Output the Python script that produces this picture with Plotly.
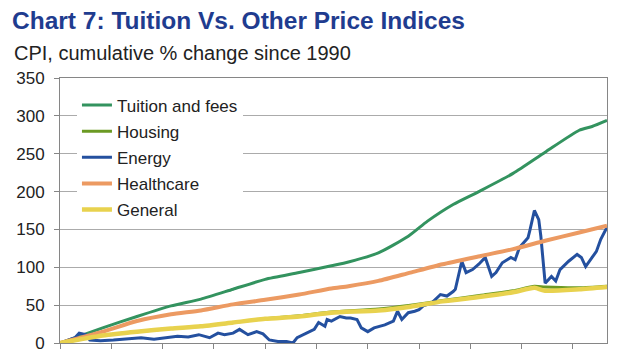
import plotly.graph_objects as go

# ---------------- data ----------------
tuition_dates = ["1990-01-01", "1991-09-01", "1993-01-01", "1994-05-01", "1995-07-01", "1996-10-01",
                 "1998-01-01", "1999-05-01", "2000-08-01", "2001-04-01", "2002-06-01", "2003-08-01",
                 "2004-05-01", "2005-05-01", "2006-05-01", "2007-09-01", "2008-12-01", "2010-04-01",
                 "2010-10-01", "2011-05-01"]
tuition_vals = [0, 20, 35, 49, 58, 71, 84, 93, 102, 107, 119, 141, 161, 183, 200, 224, 252, 281, 286, 294]

smooth_dates = ["1990-01-01", "1991-09-01", "1993-01-01", "1994-05-01", "1995-07-01", "1996-10-01",
                "1998-01-01", "1999-05-01", "2000-08-01", "2002-06-01", "2003-09-01", "2004-12-01",
                "2006-06-01", "2007-09-01", "2008-07-01", "2008-12-01", "2010-04-01", "2011-05-01"]
housing_vals = [0, 10, 15, 19, 22, 27, 32, 36, 41, 45, 50, 56, 63, 69, 75, 74, 73, 75]
general_vals = [0, 10, 15, 19, 22, 27, 32, 35, 40, 43, 48, 55, 61, 67, 73, 69, 71, 74]

health_dates = ["1990-01-01", "1991-09-01", "1993-01-01", "1994-05-01", "1995-07-01", "1996-10-01",
                "1998-01-01", "1999-05-01", "2000-08-01", "2001-04-01", "2002-06-01", "2003-09-01",
                "2004-12-01", "2006-06-01", "2007-09-01", "2008-12-01", "2010-04-01", "2011-05-01"]
health_vals = [0, 15, 29, 38, 43, 51, 57, 64, 72, 75, 82, 93, 104, 115, 124, 135, 146, 155]

energy_dates = ["1990-01-01", "1990-08-01", "1990-10-01", "1991-01-01", "1991-03-01", "1991-08-01",
                "1992-02-01", "1992-08-01", "1993-03-01", "1993-09-01", "1994-03-01", "1994-08-01",
                "1995-01-01", "1995-06-01", "1995-11-01", "1996-03-01", "1996-06-01", "1996-10-01",
                "1997-01-01", "1997-05-01", "1997-09-01", "1997-12-01", "1998-03-01", "1998-07-01",
                "1998-11-01", "1999-02-01", "1999-04-01", "1999-08-01", "1999-12-01", "2000-02-01",
                "2000-05-01", "2000-06-01", "2000-08-01", "2000-12-01", "2001-03-01", "2001-05-01",
                "2001-08-01", "2001-10-01", "2002-01-01", "2002-04-01", "2002-09-01", "2003-01-01",
                "2003-03-01", "2003-05-01", "2003-08-01", "2003-11-01", "2004-01-01", "2004-03-01",
                "2004-07-01", "2004-11-01", "2005-02-01", "2005-05-01", "2005-06-01", "2005-09-01",
                "2005-11-01", "2006-02-01", "2006-05-01", "2006-08-01", "2006-11-01", "2007-01-01",
                "2007-04-01", "2007-08-01", "2007-10-01", "2007-12-01", "2008-04-01", "2008-05-01",
                "2008-07-01", "2008-09-01", "2008-10-01", "2008-12-01", "2009-03-01", "2009-05-01",
                "2009-07-01", "2009-11-01", "2010-03-01", "2010-05-01", "2010-07-01", "2010-10-01",
                "2010-12-01", "2011-02-01", "2011-05-01"]
energy_vals = [0, 7, 13, 11, 4, 3, 4, 5, 7, 5, 7, 9,
               8, 11, 7, 13, 11, 13, 18, 11, 15, 12, 4, 2,
               2, 0, 7, 13, 18, 27, 22, 31, 29, 35, 33, 33,
               31, 20, 15, 20, 24, 29, 42, 31, 40, 42, 44, 49,
               53, 64, 62, 68, 71, 108, 93, 97, 104, 113, 88, 93,
               106, 113, 110, 126, 139, 150, 175, 163, 141, 79, 88, 82,
               97, 108, 117, 113, 101, 113, 121, 137, 153]

y_ticks = [0, 50, 100, 150, 200, 250, 300, 350]
x_ticks = ["1990-01-01", "1992-01-01", "1994-01-01", "1996-01-01", "1998-01-01", "2000-01-01",
           "2002-01-01", "2004-01-01", "2006-01-01", "2008-01-01", "2010-01-01"]

series = [
    ("Tuition and fees", tuition_dates, tuition_vals, "#33935f", 3, "spline"),
    ("Housing", smooth_dates, housing_vals, "#6b9a23", 3, "spline"),
    ("Energy", energy_dates, energy_vals, "#24509f", 3, "linear"),
    ("Healthcare", health_dates, health_vals, "#ec9a62", 4, "spline"),
    ("General", smooth_dates, general_vals, "#e8d24e", 4.5, "spline"),
]

FONT = "Liberation Sans, Arial, sans-serif"

fig = go.Figure()
for i, (name, xs, ys, color, w, shape) in enumerate(series):
    line = dict(color=color, width=w, shape=shape)
    if shape == "spline":
        line["smoothing"] = 0.6
    fig.add_trace(go.Scatter(x=xs, y=ys, name=name, mode="lines",
                             line=line, legendgroup=f"g{i}"))

# the page body adds an 8px offset, so the figure is 8px smaller than the window
fig.update_layout(
    width=628, height=350,
    margin=dict(l=52, r=29, t=70, b=15, autoexpand=False),
    paper_bgcolor="white", plot_bgcolor="white",
    font=dict(family=FONT, size=17, color="#222222"),
    title=dict(text="<b>Chart 7: Tuition Vs. Other Price Indices</b>",
               xref="container", x=0.0064, xanchor="left",
               yref="container", y=0.99, yanchor="top",
               font=dict(family=FONT, size=24.5, color="#1f3c8f")),
    legend=dict(x=0.031, y=0.964, xanchor="left", yanchor="top",
                bgcolor="white", borderwidth=0, tracegroupgap=1,
                font=dict(family=FONT, size=17, color="#222222")),
    showlegend=True,
)
fig.add_annotation(text="CPI, cumulative % change since 1990",
                   xref="paper", yref="paper", x=-0.088, y=1.145,
                   xanchor="left", yanchor="top", showarrow=False,
                   font=dict(family=FONT, size=20, color="#222222"))

fig.update_xaxes(type="date", range=["1990-01-01", "2011-05-01"],
                 tickvals=x_ticks, showticklabels=False, automargin=False,
                 ticks="outside", ticklen=5, tickcolor="#868686",
                 showline=True, linecolor="#868686", linewidth=1, mirror=True,
                 showgrid=False, zeroline=False)
fig.update_yaxes(range=[0, 350], tickvals=y_ticks, automargin=False,
                 ticks="outside", ticklen=5, tickcolor="#868686",
                 ticklabelstandoff=6,
                 showline=True, linecolor="#868686", linewidth=1, mirror=True,
                 showgrid=True, gridcolor="#ababab", gridwidth=1,
                 zeroline=False, tickfont=dict(size=17, color="#222222"))

fig.write_html("out.html")
